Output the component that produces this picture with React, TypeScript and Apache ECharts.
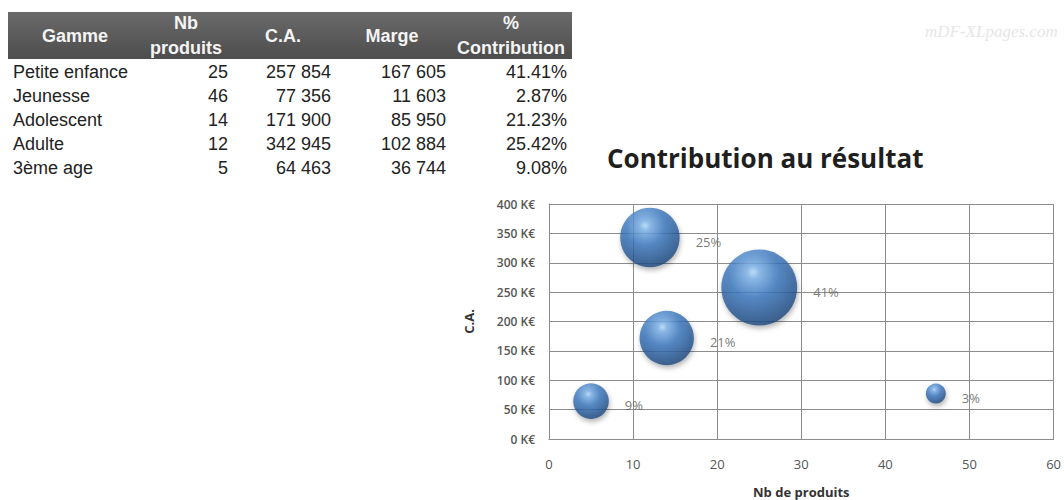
import React, { useEffect, useRef } from "react";
import * as echarts from "echarts";

// ---- Data ----
const gammes = ["Petite enfance", "Jeunesse", "Adolescent", "Adulte", "3ème age"];
const nbProduits = [25, 46, 14, 12, 5];
const chiffreAffaires = [257854, 77356, 171900, 342945, 64463];
const marges = [167605, 11603, 85950, 102884, 36744];
const contributions = [41.41, 2.87, 21.23, 25.42, 9.08];
const tableHeaders = [["Gamme"], ["Nb", "produits"], ["C.A."], ["Marge"], ["%", "Contribution"]];
const xTicks = { min: 0, max: 60, step: 10 };
const yTicks = { min: 0, max: 400000, step: 50000 };

const fmtThousands = (n: number) => String(n).replace(/\B(?=(\d{3})+(?!\d))/g, " ");
const fmtPct = (v: number) => v.toFixed(2) + "%";

// ---- Layout (positions only) ----
const headerCenters = [75, 186, 283, 392, 511];
const colAnchors = [13, 228, 331, 446, 567];
const colAligns = ["left", "right", "right", "right", "right"];
const rowY0 = 72;
const rowStep = 24.1;
const tableFont = "'Liberation Sans', Arial, sans-serif";
const chartFont = "'Open Sans', sans-serif";

function buildTable(): any[] {
  const els: any[] = [];
  els.push({
    type: "rect",
    shape: { x: 8, y: 12, width: 564, height: 47 },
    style: {
      fill: new echarts.graphic.LinearGradient(0, 0, 0, 1, [
        { offset: 0, color: "#6a6a6a" },
        { offset: 1, color: "#4d4d4d" },
      ]),
    },
  });
  tableHeaders.forEach((lines, i) => {
    els.push({
      type: "text",
      x: headerCenters[i],
      y: 35.5,
      style: {
        text: lines.join("\n"),
        fill: "#f4f4f4",
        fontFamily: tableFont,
        fontWeight: "bold",
        fontSize: 18,
        lineHeight: 25,
        align: "center",
        verticalAlign: "middle",
      },
    });
  });
  gammes.forEach((g, r) => {
    const cells = [
      g,
      String(nbProduits[r]),
      fmtThousands(chiffreAffaires[r]),
      fmtThousands(marges[r]),
      fmtPct(contributions[r]),
    ];
    cells.forEach((c, i) => {
      els.push({
        type: "text",
        x: colAnchors[i],
        y: rowY0 + r * rowStep,
        style: {
          text: c,
          fill: "#222222",
          fontFamily: tableFont,
          fontSize: 18,
          align: colAligns[i],
          verticalAlign: "middle",
        },
      });
    });
  });
  els.push({
    type: "text",
    x: 925,
    y: 31,
    style: {
      text: "mDF-XLpages.com",
      fill: "#e6e6e6",
      fontFamily: "'Liberation Serif', serif",
      fontStyle: "italic",
      fontSize: 17,
      align: "left",
      verticalAlign: "middle",
    },
  });
  return els;
}

export default function App() {
  const ref = useRef<HTMLDivElement>(null);
  useEffect(() => {
    if (!ref.current) return;
    const chart = echarts.init(ref.current, null, { renderer: "svg" });
    const bubbleData = gammes.map((g, i) => [nbProduits[i], chiffreAffaires[i], contributions[i], g]);
    const bubbleFill = new echarts.graphic.RadialGradient(0.42, 0.3, 0.74, [
      { offset: 0, color: "#b4dcfc" },
      { offset: 0.12, color: "#7ab0e8" },
      { offset: 0.45, color: "#3a76bd" },
      { offset: 0.82, color: "#22538e" },
      { offset: 1, color: "#1a4274" },
    ]);
    chart.setOption({
      animation: false,
      backgroundColor: "#ffffff",
      title: {
        text: "Contribution au résultat",
        left: 602,
        top: 140,
        textStyle: {
          fontFamily: chartFont,
          fontWeight: "bold",
          fontSize: 26,
          color: "#1f1f1f",
        },
      },
      graphic: buildTable(),
      grid: { left: 549, right: 6, top: 204, bottom: 61 },
      xAxis: {
        type: "value",
        min: xTicks.min,
        max: xTicks.max,
        interval: xTicks.step,
        name: "Nb de produits",
        nameLocation: "middle",
        nameGap: 46,
        nameTextStyle: { fontFamily: chartFont, fontWeight: "bold", fontSize: 13, color: "#333" },
        axisLine: { show: true, lineStyle: { color: "#8c8c8c" } },
        axisTick: { show: false },
        axisLabel: { color: "#555", fontSize: 13, margin: 18, fontFamily: chartFont },
        splitLine: { show: true, lineStyle: { color: "#8c8c8c", width: 1 } },
      },
      yAxis: {
        type: "value",
        min: yTicks.min,
        max: yTicks.max,
        interval: yTicks.step,
        name: "C.A.",
        nameLocation: "middle",
        nameGap: 74,
        nameRotate: 90,
        nameTextStyle: { fontFamily: chartFont, fontWeight: "bold", fontSize: 13, color: "#333" },
        axisLine: { show: true, lineStyle: { color: "#8c8c8c" } },
        axisTick: { show: false },
        axisLabel: {
          color: "#555",
          fontSize: 12,
          fontWeight: 600,
          margin: 14,
          fontFamily: chartFont,
          formatter: (v: number) => v / 1000 + " K€",
        },
        splitLine: { show: true, lineStyle: { color: "#8c8c8c", width: 1 } },
      },
      series: [
        {
          type: "scatter",
          data: bubbleData,
          symbolSize: (val: any[]) => Math.sqrt(val[2]) * 11.8,
          itemStyle: {
            color: bubbleFill,
            shadowBlur: 5,
            shadowColor: "rgba(0,0,0,0.35)",
            shadowOffsetX: 1,
            shadowOffsetY: 3,
          },
          label: {
            show: true,
            position: "right",
            distance: 16,
            offset: [0, 4],
            color: "#555",
            fontSize: 13,
            fontFamily: chartFont,
            formatter: (p: any) => Math.round(p.value[2]) + "%",
          },
        },
      ],
    });
    return () => chart.dispose();
  }, []);
  return <div ref={ref} style={{ position: "fixed", left: 0, top: 0, width: 1064, height: 500 }} />;
}
